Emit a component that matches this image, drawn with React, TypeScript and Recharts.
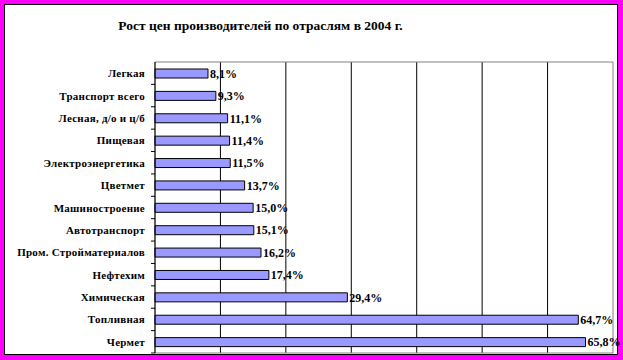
import { BarChart, Bar, XAxis, YAxis, CartesianGrid, LabelList, ReferenceArea } from "recharts";

const categories = [
  "Легкая",
  "Транспорт всего",
  "Лесная, д/о и ц/б",
  "Пищевая",
  "Электроэнергетика",
  "Цветмет",
  "Машиностроение",
  "Автотранспорт",
  "Пром. Стройматериалов",
  "Нефтехим",
  "Химическая",
  "Топливная",
  "Чермет",
];
const values = [8.1, 9.3, 11.1, 11.4, 11.5, 13.7, 15.0, 15.1, 16.2, 17.4, 29.4, 64.7, 65.8];
const xMax = 70;
const gridTicks = [10, 20, 30, 40, 50, 60];

const data = categories.map((name, i) => ({ name, value: values[i] }));

const W = 623;
const H = 360;
const margin = { top: 62, right: 10, bottom: 7, left: 0 };
const band = (H - margin.top - margin.bottom) / categories.length;
const serif = '"Liberation Serif", "Times New Roman", serif';

const CatTick = (props: any) => {
  const { x, y, payload } = props;
  return (
    <g>
      <text
        x={x - 2}
        y={y}
        dy={4}
        textAnchor="end"
        fontFamily={serif}
        fontWeight="bold"
        fontSize={11}
        letterSpacing={0.25}
        fill="#000"
      >
        {payload.value}
      </text>
      <line x1={x + 4} x2={x + 8} y1={y + band / 2} y2={y + band / 2} stroke="#000" />
    </g>
  );
};

export default function App() {
  return (
    <div style={{ position: "absolute", left: 0, top: 0, width: W, height: H, background: "#ff00ff" }}>
      <div
        style={{
          position: "absolute",
          left: 4,
          top: 4,
          width: 612,
          height: 349,
          background: "#fff",
          border: "1px solid #000",
        }}
      />
      <div
        style={{
          position: "absolute",
          left: 0,
          top: 18,
          width: 521,
          textAlign: "center",
          fontFamily: serif,
          fontWeight: "bold",
          fontSize: 13.5,
        }}
      >
        Рост цен производителей по отраслям в 2004 г.
      </div>
      <div style={{ position: "absolute", left: 0, top: 0 }}>
        <BarChart width={W} height={H} data={data} layout="vertical" margin={margin} barSize={9}>
          <CartesianGrid
            horizontal={false}
            stroke="#000"
            verticalCoordinatesGenerator={({ offset }: any) =>
              gridTicks.map((t) => offset.left + (offset.width * t) / xMax)
            }
          />
          <ReferenceArea x1={0} x2={xMax} fill="none" stroke="#808080" strokeWidth={1} />
          <XAxis
            type="number"
            domain={[0, xMax]}
            ticks={gridTicks}
            height={0}
            tick={false}
            axisLine={false}
            tickLine={false}
          />
          <YAxis
            type="category"
            dataKey="name"
            width={155}
            tickLine={false}
            tickSize={0}
            tickMargin={8}
            axisLine={{ stroke: "#000" }}
            tick={<CatTick />}
            interval={0}
          />
          <Bar dataKey="value" fill="#9999ff" stroke="#000" strokeWidth={1} isAnimationActive={false}>
            <LabelList
              dataKey="value"
              position="right"
              offset={2}
              formatter={(v: any) => Number(v).toFixed(1).replace(".", ",") + "%"}
              style={{ fontFamily: serif, fontWeight: "bold", fontSize: 12, fill: "#000" }}
            />
          </Bar>
        </BarChart>
      </div>
    </div>
  );
}
